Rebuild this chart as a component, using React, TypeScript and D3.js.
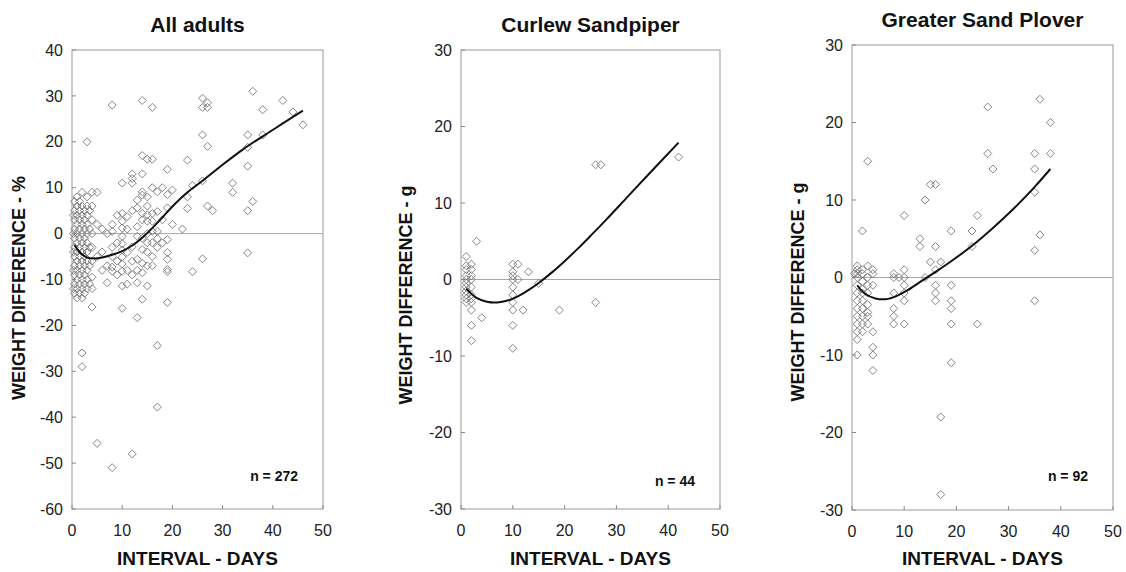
import React from 'react';
import * as d3 from 'd3';

// ---------- data ----------
const xTicks = [0, 10, 20, 30, 40, 50];
const yTicksAll = [40, 30, 20, 10, 0, -10, -20, -30, -40, -50, -60];
const yTicksBird = [30, 20, 10, 0, -10, -20, -30];

const titles = ['All adults', 'Curlew Sandpiper', 'Greater Sand Plover'];
const yLabels = ['WEIGHT DIFFERENCE - %', 'WEIGHT DIFFERENCE - g', 'WEIGHT DIFFERENCE - g'];
const xLabel = 'INTERVAL - DAYS';
const nLabels = ['n = 272', 'n = 44', 'n = 92'];

const allAdultsByDay: [number, number[]][] = [
  [0.3, [4, 0, -4, -8, -12]],
  [0.5, [7, 5, 3, 1, -1, -3, -5, -7, -9, -11, -13]],
  [1, [8, 6, 4, 2, 0, -2, -4, -6, -8, -10, -12, -14]],
  [1.5, [7, 5, 3, 1, -1, -3, -5, -7, -9, -11, -13]],
  [2, [9, 6, 4, 2, 0, -2, -4, -6, -8, -10, -12, -14, -26, -29]],
  [2.5, [5, 3, 1, -1, -3, -5, -7, -9, -11, -13]],
  [3, [20, 8, 6, 4, 2, 0, -2, -4, -6, -8, -10, -12]],
  [3.5, [5, 1, -3, -7, -11]],
  [4, [9, 6, 3, 0, -3, -6, -9.5, -12, -16]],
  [5, [9, 2, -5, -45.7]],
  [6, [1, -4, -8]],
  [7, [0, -7, -10.7]],
  [8, [28, 2, 0.5, -3, -5, -7.3, -8.2, -51]],
  [9, [4, -2, -6, -9]],
  [10, [11, 4.4, 2.7, 1.2, -0.6, -2.2, -3.6, -5.1, -6.6, -8.2, -11.4, -16.3]],
  [11, [3.7, 1, -4.1, -8, -11]],
  [12, [13, 12, 11, 5, -2.9, -6, -9, -48]],
  [13, [7.3, 5.6, 1.5, -0.6, -5.6, -8, -10.7, -18.3]],
  [14, [29, 17, 13, 9.1, 8.4, 4.4, 3, -1, -3.5, -6.5, -8.5, -14.3]],
  [15, [16.2, 8, 6, 4.1, 2.7, 0, -2, -4, -7, -11.4]],
  [16, [27.5, 16.2, 10, 4.4, 2.7, 0.5, -2, -5, -7]],
  [17, [9.1, 4.8, 0.5, -1.1, -3, -24.4, -37.8]],
  [18, [10, 3, -2]],
  [19, [14, 8.5, 5.6, -1.3, -4.1, -5.6, -7.8, -8.3, -15]],
  [20, [9.5, 2]],
  [22, [1]],
  [23, [16, 8, 5.5]],
  [24, [10.5, -8.3]],
  [26, [29.5, 27.5, 21.5, 11.5, -5.5]],
  [27, [28.5, 27.5, 19, 6]],
  [28, [5]],
  [32, [11, 9]],
  [35, [21.5, 18.8, 14.7, 5, -4.2]],
  [36, [31, 7]],
  [38, [27, 21.5]],
  [42, [29]],
  [44, [26.5]],
  [46, [23.7]],
];
const allAdultsFit: [number, number][] = [
  [0.5, -2.5], [1.5, -4], [3, -5.2], [4.5, -5.4], [6, -5.2], [8, -4.6], [10, -3.8],
  [12, -2.6], [14, -0.9], [16, 1.2], [18, 3.5], [20, 5.9], [23, 9.0], [26, 11.5],
  [30, 15], [34, 18.3], [38, 21.2], [42, 24], [46, 26.8],
];

const curlewByDay: [number, number[]][] = [
  [1, [3, 1.8, 1.3, 0.5, 0, -0.5, -1, -1.5, -2, -2.5, -3]],
  [2, [2, 1.3, 0.5, 0, -1, -2, -2.5, -3, -4, -6, -8]],
  [3, [5]],
  [4, [-5]],
  [10, [2, 1, 0.5, 0, -1, -2, -3, -4, -6, -9]],
  [11, [2, 0]],
  [12, [-4]],
  [13, [1]],
  [15, [-0.5]],
  [19, [-4]],
  [26, [15, -3]],
  [27, [15]],
  [42, [16]],
];
const curlewFit: [number, number][] = [
  [1, -1.2], [3, -2.4], [5, -2.9], [7, -3], [9, -2.75], [11, -2.2], [13, -1.4],
  [15, -0.45], [17.5, 0.9], [20, 2.4], [22.5, 4], [25, 5.7], [28, 7.8], [32, 10.7],
  [36, 13.6], [42, 17.9],
];

const ploverByDay: [number, number[]][] = [
  [0.5, [0.5]],
  [1, [1.5, 1, 0.5, 0, -1, -2, -3, -4, -5, -6, -7, -8, -10]],
  [2, [6, 1, 0.5, -0.5, -1.5, -2, -3, -4, -5, -6, -7]],
  [3, [15, 1.5, 0, -1, -2, -3.5, -4.5, -5, -6]],
  [4, [1, 0.5, -1, -7, -9, -10, -12]],
  [8, [0.5, 0, -2, -4, -5, -6]],
  [9, [0]],
  [10, [8, 1, 0, -1, -2, -3, -6]],
  [13, [5, 4]],
  [14, [10, 0]],
  [15, [12, 2]],
  [16, [12, 4, 1, -1, -2, -3]],
  [17, [2, -18, -28]],
  [19, [6, -1, -3, -4, -6, -11]],
  [23, [6, 4]],
  [24, [8, -6]],
  [26, [22, 16]],
  [27, [14]],
  [35, [16, 14, 11, 3.5, -3]],
  [36, [23, 5.5]],
  [38, [20, 16]],
];
const ploverFit: [number, number][] = [
  [1, -1], [2.5, -2.1], [4.5, -2.7], [6.5, -2.8], [8.5, -2.4], [10.5, -1.7], [13, -0.6],
  [15.5, 0.5], [19, 2.1], [23, 4.1], [27, 6.4], [31, 8.9], [35, 11.7], [38, 14],
];

// ---------- drawing ----------
const FONT = '"Liberation Sans", Arial, Helvetica, sans-serif';

type PanelSpec = {
  left: number; right: number; top: number; bottom: number;
  yDomain: [number, number]; yTicks: number[];
  byDay: [number, number[]][]; fit: [number, number][];
  title: string; yLabel: string; nLabel: string;
  titleY: number; yLabelX: number; yLabelY: number; nY: number;
};

const panels: PanelSpec[] = [
  { left: 72, right: 323, top: 50, bottom: 509, yDomain: [-60, 40], yTicks: yTicksAll,
    byDay: allAdultsByDay, fit: allAdultsFit, title: titles[0], yLabel: yLabels[0], nLabel: nLabels[0],
    titleY: 32, yLabelX: 25, yLabelY: 288, nY: 481 },
  { left: 461, right: 720, top: 50, bottom: 509, yDomain: [-30, 30], yTicks: yTicksBird,
    byDay: curlewByDay, fit: curlewFit, title: titles[1], yLabel: yLabels[1], nLabel: nLabels[1],
    titleY: 32, yLabelX: 412, yLabelY: 295, nY: 486 },
  { left: 852, right: 1113, top: 45, bottom: 510, yDomain: [-30, 30], yTicks: yTicksBird,
    byDay: ploverByDay, fit: ploverFit, title: titles[2], yLabel: yLabels[2], nLabel: nLabels[2],
    titleY: 27, yLabelX: 804, yLabelY: 292, nY: 481 },
];

const diamond = 'M0,-4L4,0L0,4L-4,0Z';

function Panel({ p }: { p: PanelSpec }) {
  const x = d3.scaleLinear().domain([0, 50]).range([p.left, p.right]);
  const y = d3.scaleLinear().domain(p.yDomain).range([p.bottom, p.top]);
  const pts = p.byDay.flatMap(([d, vs]) => vs.map((v) => [d, v] as [number, number]));
  const line = d3.line<[number, number]>().x((d) => x(d[0])).y((d) => y(d[1])).curve(d3.curveCatmullRom.alpha(0.5));
  const cx = (p.left + p.right) / 2;
  return (
    <g>
      <text x={cx} y={p.titleY} textAnchor="middle" fontFamily={FONT} fontWeight="bold" fontSize={21} fill="#111">{p.title}</text>
      <rect x={p.left} y={p.top} width={p.right - p.left} height={p.bottom - p.top} fill="none" stroke="#9a9a9a" strokeWidth={1} />
      <line x1={p.left} x2={p.right} y1={y(0)} y2={y(0)} stroke="#a8a8a8" strokeWidth={1} />
      {p.yTicks.map((t) => (
        <g key={'y' + t}>
          <line x1={p.left} x2={p.left + 4} y1={y(t)} y2={y(t)} stroke="#888" />
          <text x={p.left - 9} y={y(t)} dy="0.35em" textAnchor="end" fontFamily={FONT} fontSize={16} fill="#222">{t}</text>
        </g>
      ))}
      {xTicks.map((t) => (
        <g key={'x' + t}>
          <line x1={x(t)} x2={x(t)} y1={p.bottom} y2={p.bottom - 4} stroke="#888" />
          <text x={x(t)} y={p.bottom + 27} textAnchor="middle" fontFamily={FONT} fontSize={16} fill="#222">{t}</text>
        </g>
      ))}
      {pts.map(([d, v], i) => (
        <path key={i} d={diamond} transform={`translate(${x(d)},${y(v)})`} fill="none" stroke="#777" strokeWidth={0.9} />
      ))}
      <path d={line(p.fit) || ''} fill="none" stroke="#111" strokeWidth={2} />
      <text x={p.right - 25} y={p.nY} textAnchor="end" fontFamily={FONT} fontWeight="bold" fontSize={14} fill="#111">{p.nLabel}</text>
      <text x={cx} y={565} textAnchor="middle" fontFamily={FONT} fontWeight="bold" fontSize={19} fill="#111">{xLabel}</text>
      <text transform={`translate(${p.yLabelX},${p.yLabelY}) rotate(-90)`} textAnchor="middle" fontFamily={FONT} fontWeight="bold" fontSize={18} fill="#111">{p.yLabel}</text>
    </g>
  );
}

export default function App() {
  return (
    <svg width={1126} height={572} style={{ position: 'absolute', left: 0, top: 0, background: '#fff' }}>
      <rect width={1126} height={572} fill="#fff" />
      {panels.map((p, i) => <Panel key={i} p={p} />)}
    </svg>
  );
}
